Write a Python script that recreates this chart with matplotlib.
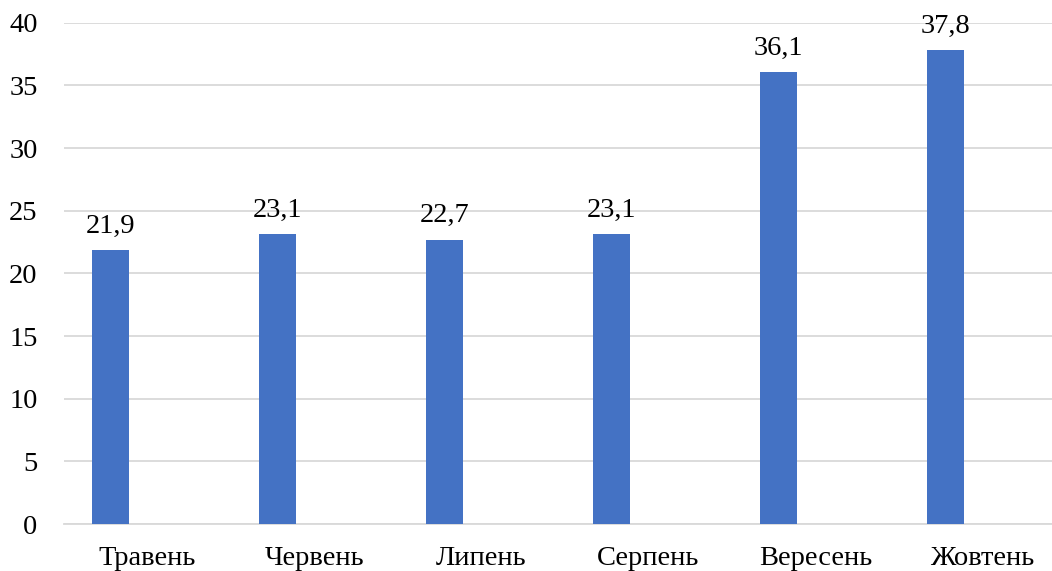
import matplotlib
matplotlib.use("Agg")
import matplotlib.pyplot as plt
import numpy as np

categories = ["Травень", "Червень", "Липень", "Серпень", "Вересень", "Жовтень"]
values = [21.9, 23.1, 22.7, 23.1, 36.1, 37.8]
value_labels = ["21,9", "23,1", "22,7", "23,1", "36,1", "37,8"]
yticks = [0, 5, 10, 15, 20, 25, 30, 35, 40]

plt.rcParams['font.family'] = ['Liberation Serif', 'DejaVu Serif']
FS = 20.5

fig = plt.figure(figsize=(10.52, 5.71), dpi=100)
ax = fig.add_axes([64/1052, 47/571, 1002/1052, (524-22.7)/571])

x = np.arange(len(categories))
bw = 37/167
bars = ax.bar(x - bw, values, width=bw, color="#4472C4", zorder=3)

for xi, v, lab in zip(x, values, value_labels):
    ax.annotate(lab, (xi - bw, v), xytext=(0, 8), textcoords="offset points",
                ha="center", va="bottom", fontsize=FS, color="#000000")

ax.set_xlim(-0.5, len(categories) - 0.5)
ax.set_ylim(0, 40)
ax.set_yticks(yticks)
ax.set_yticklabels([str(t) for t in yticks], fontsize=FS)
ax.set_xticks(x)
ax.set_xticklabels(categories, fontsize=FS)
ax.tick_params(axis="both", length=0, colors="#000000")
ax.tick_params(axis="y", pad=19)
ax.tick_params(axis="x", pad=16)
ax.grid(axis="y", color="#d9d9d9", linewidth=1.3, zorder=0)
for s in ["top", "right", "left"]:
    ax.spines[s].set_visible(False)
ax.spines["bottom"].set_color("#d9d9d9")
ax.spines["bottom"].set_linewidth(1.3)

fig.savefig("out.png", dpi=100)
